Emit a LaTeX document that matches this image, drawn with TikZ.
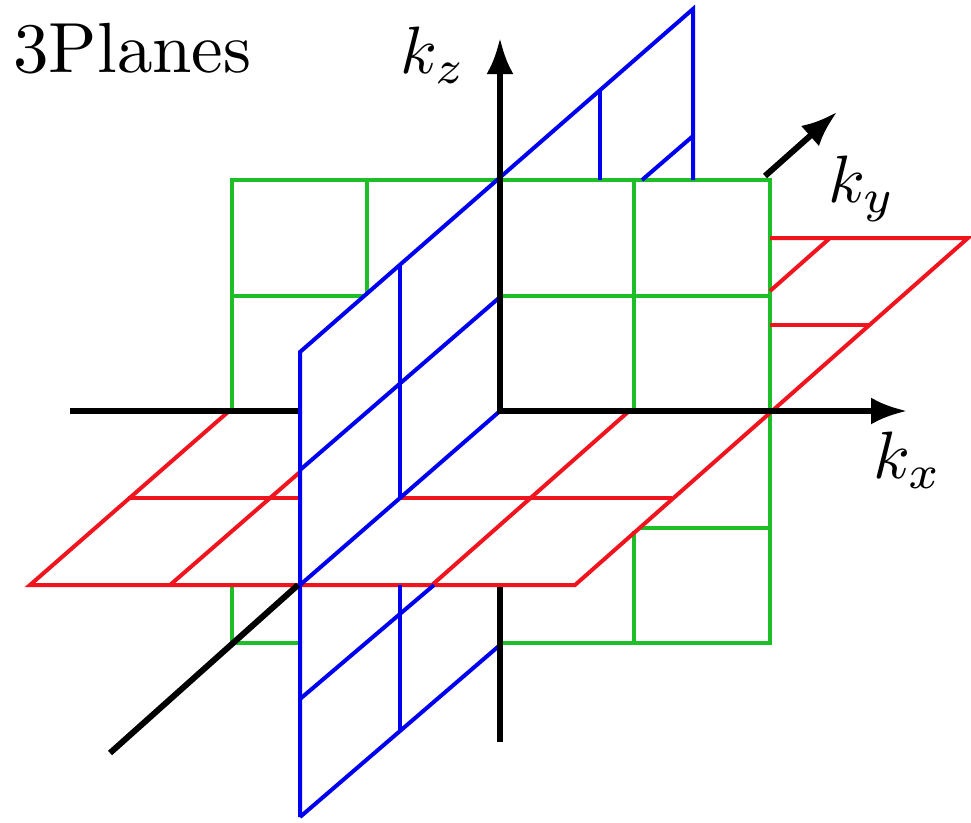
\documentclass[tikz,border=0pt]{standalone}
\usetikzlibrary{arrows.meta}
\definecolor{gcol}{RGB}{30,190,40}
\definecolor{bcol}{RGB}{0,0,240}
\definecolor{rcol}{RGB}{240,20,30}
\begin{document}
\begin{tikzpicture}[x=1pt,y=-1pt,
  gl/.style={gcol,line width=4pt},
  bl/.style={bcol,line width=4pt},
  rl/.style={rcol,line width=4pt},
  ax/.style={black,line width=6pt},
  tipstyle/.style={-{Latex[length=36pt,width=27pt]}},
  lbl/.style={inner sep=0pt,anchor=base west,font=\fontsize{10}{12}\selectfont,scale=6.7},
  ttl/.style={inner sep=0pt,anchor=base west,font=\fontsize{10}{12}\selectfont,scale=7.1}]
\useasboundingbox (0,0) rectangle (971,822);
\coordinate (O) at (500,411);
% ---------------- green plane (y = 0)
\draw[gl] (232,411) -- (232,180) -- (770,180) -- (770,643) -- (500,643);
\draw[gl] (367,180) -- (367,294);
\draw[gl] (232,296) -- (365,296);
\draw[gl] (500,296) -- (770,296);
\draw[gl] (634,180) -- (634,411);
\draw[gl] (232,587) -- (232,643) -- (300,643);
\draw[gl] (634,531) -- (634,643);
\draw[gl] (639,528) -- (770,528);
% ---------------- red plane (z = 0)
\draw[rl] (228,412) -- (30,585) -- (575,585) -- (968,238) -- (770,238);
\draw[rl] (170,585) -- (300,472);
\draw[rl] (128,498) -- (300,498);
\draw[rl] (400,498) -- (672,498);
\draw[rl] (432,585) -- (628,412);
\draw[rl] (770,325) -- (870,325);
\draw[rl] (830,238) -- (770,291);
% ---------------- blue plane (x = 0)
\draw[bl] (300,817) -- (300,352) -- (693,9) -- (693,180);
\draw[bl] (600,91) -- (600,180);
\draw[bl] (642,180) -- (693,136);
\draw[bl] (400,265) -- (400,498);
\draw[bl] (400,585) -- (400,731);
\draw[bl] (300,470) -- (500,297);
\draw[bl] (300,585) -- (O);
\draw[bl] (300,699) -- (434,585);
\draw[bl] (300,817) -- (500,645);
% ---------------- axes
\draw[ax,{Latex[length=36pt,width=27pt]}-{Latex[length=36pt,width=27pt]}] (500,38) -- (O) -- (907,411);
\draw[ax] (70,411) -- (298,411);
\draw[ax] (500,587) -- (500,742);
\draw[ax] (298,585) -- (110,753);
\draw[ax,tipstyle] (765,176) -- (837,112);
% ---------------- labels
\node[ttl] (title) at (12,72) {3Planes};
\node[lbl] (kz) at (399,73) {$k_z$};
\node[lbl] (ky) at (827,202) {$k_y$};
\node[lbl] (kx) at (872,478) {$k_x$};
\end{tikzpicture}
\end{document}
